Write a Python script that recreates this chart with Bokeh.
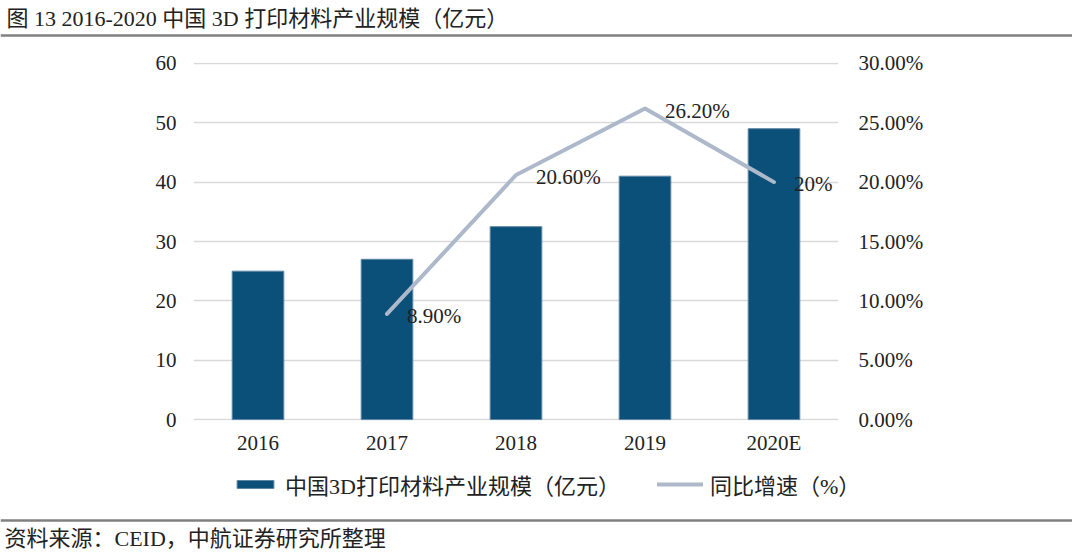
from bokeh.plotting import figure
from bokeh.layouts import column
from bokeh.models import (Range1d, LinearAxis, FactorRange, Label, Span, Legend,
                          LegendItem, SingleIntervalTicker, PrintfTickFormatter, ColumnDataSource)
from bokeh.core.properties import value
from bokeh.embed import file_html
from bokeh.resources import INLINE

# ---- data ----
years = ["2016", "2017", "2018", "2019", "2020E"]
market_size = [25.0, 27.0, 32.5, 41.0, 49.0]          # 亿元
growth_years = ["2017", "2018", "2019", "2020E"]
growth_rate = [8.9, 20.6, 26.2, 20.0]                 # %
growth_labels = ["8.90%", "20.60%", "26.20%", "20%"]

title_text = "图 13 2016-2020 中国 3D 打印材料产业规模（亿元）"
bar_name = "中国3D打印材料产业规模（亿元）"
line_name = "同比增速（%）"
source_text = "资料来源：CEID，中航证券研究所整理"

BAR = "#0B5079"
LINE = "#ADB9CA"
GRID = "#D9D9D9"
SEP = "#808080"
TXT = "#222222"
FONT = "'Liberation Serif', 'Noto Sans CJK SC', serif"
W = 1072

bar_src = ColumnDataSource(dict(year=years, size=market_size))
line_src = ColumnDataSource(dict(year=growth_years, growth=growth_rate, label=growth_labels))


def bar_glyph(fig, **kw):
    return fig.vbar(x="year", top="size", width=0.4, source=bar_src,
                    fill_color=BAR, line_color="#5E86A3", line_width=1, **kw)


def line_glyph(fig, **kw):
    return fig.line(x="year", y="growth", source=line_src, line_width=4,
                    line_color=LINE, line_join="round", line_cap="round", **kw)


# ---- header ----
top = figure(width=W, height=50, x_range=Range1d(0, W), y_range=Range1d(50, 0),
             x_axis_type=None, y_axis_type=None, output_backend="svg",
             toolbar_location=None, min_border=0, frame_align=False)
top.outline_line_color = None
top.add_layout(Label(x=6, y=18, text=title_text, text_baseline="middle",
                     text_font=FONT, text_font_size="22px", text_color=TXT))
top.add_layout(Span(location=35, dimension="width", line_color=SEP, line_width=2.5))

# ---- main chart ----
p = figure(width=W, height=410,
           x_range=FactorRange(*years, range_padding=0),
           y_range=Range1d(-0.15, 60.15),
           output_backend="svg", toolbar_location=None, frame_align=False,
           min_border_left=193, min_border_right=W - 838,
           min_border_top=12, min_border_bottom=40)
p.outline_line_color = None
p.xgrid.grid_line_color = None
p.ygrid.grid_line_color = GRID
p.ygrid.grid_line_width = 1.5
p.extra_y_ranges = {"pct": Range1d(-0.075, 30.075)}

bar_glyph(p)
line_glyph(p, y_range_name="pct")
p.text(x="year", y="growth", text="label", y_range_name="pct", source=line_src,
       x_offset=20, y_offset=2, text_baseline="middle", text_align="left",
       text_font=value(FONT), text_font_size="21px", text_color=TXT)

rax = LinearAxis(y_range_name="pct", ticker=SingleIntervalTicker(interval=5),
                 formatter=PrintfTickFormatter(format="%.2f%%"))
p.add_layout(rax, "right")
p.yaxis[0].ticker = SingleIntervalTicker(interval=10)

for ax in (p.xaxis[0], p.yaxis[0], rax):
    ax.axis_line_color = None
    ax.major_tick_line_color = None
    ax.minor_tick_line_color = None
    ax.major_tick_out = 0
    ax.major_tick_in = 0
    ax.minor_tick_out = 0
    ax.major_label_text_font = FONT
    ax.major_label_text_font_size = "21px"
    ax.major_label_text_color = TXT
p.yaxis[0].major_label_standoff = 17
rax.major_label_standoff = 20
p.xaxis[0].major_label_standoff = 10

# ---- footer: legend, separator, source ----
bot = figure(width=W, height=92, x_range=FactorRange(*years), y_range=Range1d(1092, 1000),
             x_axis_type=None, y_axis_type=None, output_backend="svg",
             toolbar_location=None, min_border=0, frame_align=False)
bot.outline_line_color = None
bot.xgrid.grid_line_color = None
bot.ygrid.grid_line_color = None
# legend-only renderers (hidden; they only supply the legend swatches)
leg_bar = bar_glyph(bot, visible=False)
leg_line = line_glyph(bot, visible=False)
legend = Legend(items=[LegendItem(label=bar_name, renderers=[leg_bar]),
                       LegendItem(label=line_name, renderers=[leg_line])],
                location=(232, 52), orientation="horizontal",
                glyph_width=46, glyph_height=10, label_standoff=7,
                spacing=37, padding=0, margin=0, border_line_color=None,
                background_fill_alpha=0, label_text_font=FONT,
                label_text_font_size="22px", label_text_color=TXT,
                inactive_fill_alpha=0)
bot.add_layout(legend)
bot.add_layout(Span(location=1060, dimension="width", line_color=SEP, line_width=2.5))
bot.add_layout(Label(x=4, y=1078, x_units="screen", y_units="data", text=source_text,
                     text_baseline="middle", text_font=FONT, text_font_size="22px",
                     text_color=TXT))

layout = column(top, p, bot, spacing=0)
open("out.html", "w").write(file_html(layout, INLINE))
